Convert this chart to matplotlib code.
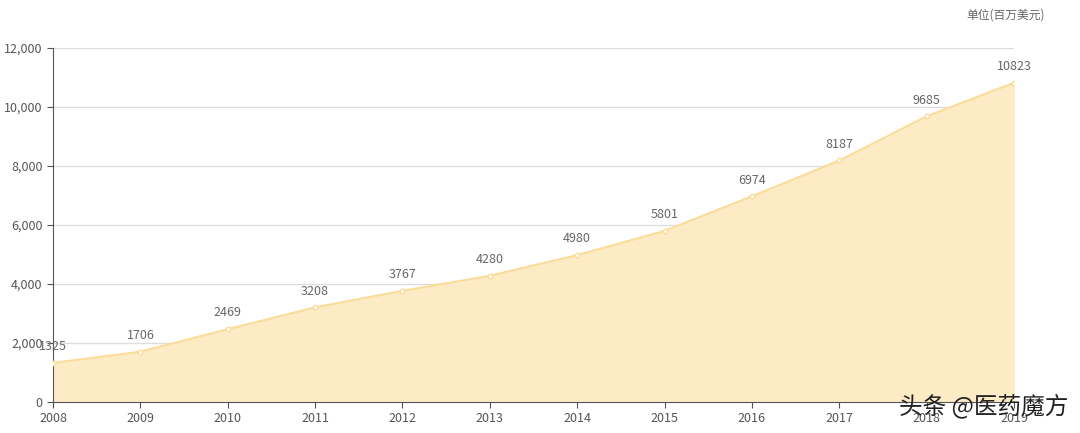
import matplotlib.pyplot as plt

plt.rcParams['font.family'] = ['Noto Sans CJK SC', 'DejaVu Sans']

years = ['2008', '2009', '2010', '2011', '2012', '2013', '2014', '2015', '2016', '2017', '2018', '2019']
values = [1325, 1706, 2469, 3208, 3767, 4280, 4980, 5801, 6974, 8187, 9685, 10823]

fig = plt.figure(figsize=(10.8, 4.33), dpi=100)
ax = fig.add_axes([53/1080, 31/433, 961/1080, 354/433])
x = list(range(len(years)))

ax.fill_between(x, values, 0, color='#fdebc6', zorder=1)
ax.plot(x, values, color='#fbdc9a', lw=1.5, zorder=2)
ax.scatter(x, values, s=10, color='white', edgecolor='#fbdc9a', zorder=3)
for xi, v in zip(x, values):
    ax.annotate(str(v), (xi, v), xytext=(0, 7), textcoords='offset points',
                ha='center', va='bottom', fontsize=9, color='#666666')

ax.set_xlim(0, len(years) - 1)
ax.set_ylim(0, 12000)
ax.set_xticks(x)
ax.set_xticklabels(years)
ax.set_yticks(range(0, 12001, 2000))
ax.set_yticklabels([f'{v:,}' for v in range(0, 12001, 2000)])
ax.grid(axis='y', color='#dddddd', lw=1, zorder=0)
ax.set_axisbelow(True)
for s in ['top', 'right']:
    ax.spines[s].set_visible(False)
for s in ['left', 'bottom']:
    ax.spines[s].set_color('#555555')
ax.tick_params(colors='#555555', labelsize=9, length=4, labelcolor='#555555')

fig.text(1045/1080, 1 - 15/433, '单位(百万美元)', ha='right', va='center', fontsize=8.5, color='#666666')
fig.text(1068/1080, 1 - 406/433, '头条 @医药魔方', ha='right', va='center', fontsize=17, color='#222222')

fig.savefig('out.png')
